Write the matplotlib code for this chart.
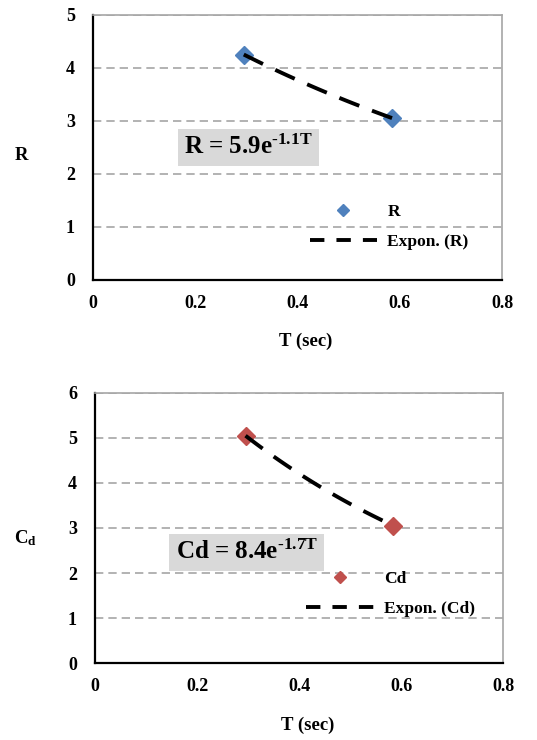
import numpy as np
import matplotlib.pyplot as plt
from matplotlib.lines import Line2D

plt.rcParams['font.family'] = 'Liberation Serif'
plt.rcParams['font.weight'] = 'bold'
plt.rcParams['mathtext.fontset'] = 'custom'
plt.rcParams['mathtext.rm'] = 'Liberation Serif:bold'
plt.rcParams['mathtext.bf'] = 'Liberation Serif:bold'
plt.rcParams['mathtext.it'] = 'Liberation Serif:bold'

# datos
T = [0.295, 0.585]
R = [4.25, 3.05]
Cd = [5.05, 3.05]

eq_R = 'R = 5.9e$^{\\mathrm{\u20101.1T}}$'
eq_Cd = 'Cd = 8.4e$^{\\mathrm{\u20101.7T}}$'

xticks = [0, 0.2, 0.4, 0.6, 0.8]
xtick_labels = ['0', '0.2', '0.4', '0.6', '0.8']


def ajuste_expo(x, y):
    b, ln_a = np.polyfit(x, np.log(y), 1)
    xx = np.linspace(min(x), max(x), 50)
    return xx, np.exp(ln_a) * np.exp(b * xx)


def panel(ax, y, nombre, color, ymax, ecuacion, ylabel, pos_ylab, pos_eq, pos_leg):
    xx, yy = ajuste_expo(T, y)
    ax.plot(T, y, 'D', color=color, ms=9, zorder=4)
    ax.plot(xx, yy, color='black', lw=2.8, ls=(0, (5.5, 3.5)), zorder=5)
    ax.set_xlim(0, 0.8)
    ax.set_ylim(0, ymax)
    ax.set_xticks(xticks)
    ax.set_xticklabels(xtick_labels)
    ax.set_yticks(range(ymax + 1))
    ax.yaxis.grid(True, color='#a6a6a6', ls=(0, (5, 3)), lw=1.2)
    ax.set_axisbelow(True)
    ax.tick_params(length=0, labelsize=13)
    ax.tick_params(axis='y', pad=13)
    ax.tick_params(axis='x', pad=11)
    for s in ['left', 'bottom']:
        ax.spines[s].set_color('black')
        ax.spines[s].set_linewidth(1.6)
    for s in ['top', 'right']:
        ax.spines[s].set_color('#a6a6a6')
        ax.spines[s].set_linewidth(1.2)
    ax.set_xlabel('T (sec)', fontsize=13.5, labelpad=14, fontweight='bold')
    ax.xaxis.set_label_coords(0.52, -0.2)
    ax.set_ylabel(ylabel, fontsize=13.5, rotation=0, va='center', ha='center',
                  fontweight='bold')
    ax.yaxis.set_label_coords(pos_ylab[0], pos_ylab[1])
    ax.text(pos_eq[0], pos_eq[1], ecuacion, transform=ax.transAxes,
            fontsize=18, ha='center', va='center', fontweight='bold',
            bbox=dict(facecolor='#d9d9d9', edgecolor='none', pad=4.5))
    # entradas de la leyenda
    h_pto = Line2D([], [], ls='none', marker='D', color=color, ms=6)
    h_lin = Line2D([], [], color='black', lw=2.8, ls=(0, (3.7, 3.1)))
    ax.legend([h_pto, h_lin], [nombre, 'Expon. (' + nombre + ')'],
              loc='upper left', bbox_to_anchor=pos_leg, frameon=False,
              fontsize=12.5, handlelength=3.87, handletextpad=0.6,
              labelspacing=0.8, borderpad=0, borderaxespad=0)


fig = plt.figure(figsize=(5.37, 7.4), dpi=100)
ax1 = fig.add_axes([0.173, 0.622, 0.762, 0.358])
ax2 = fig.add_axes([0.177, 0.104, 0.760, 0.365])

panel(ax1, R, 'R', '#4f81bd', 5, eq_R, 'R', (-0.174, 0.47), (0.38, 0.50), (0.53, 0.285))
panel(ax2, Cd, 'Cd', '#c0504d', 6, eq_Cd, r'$\mathbf{C_d}$', (-0.17, 0.463),
      (0.372, 0.41), (0.518, 0.34))

plt.savefig('out.png', dpi=100)
